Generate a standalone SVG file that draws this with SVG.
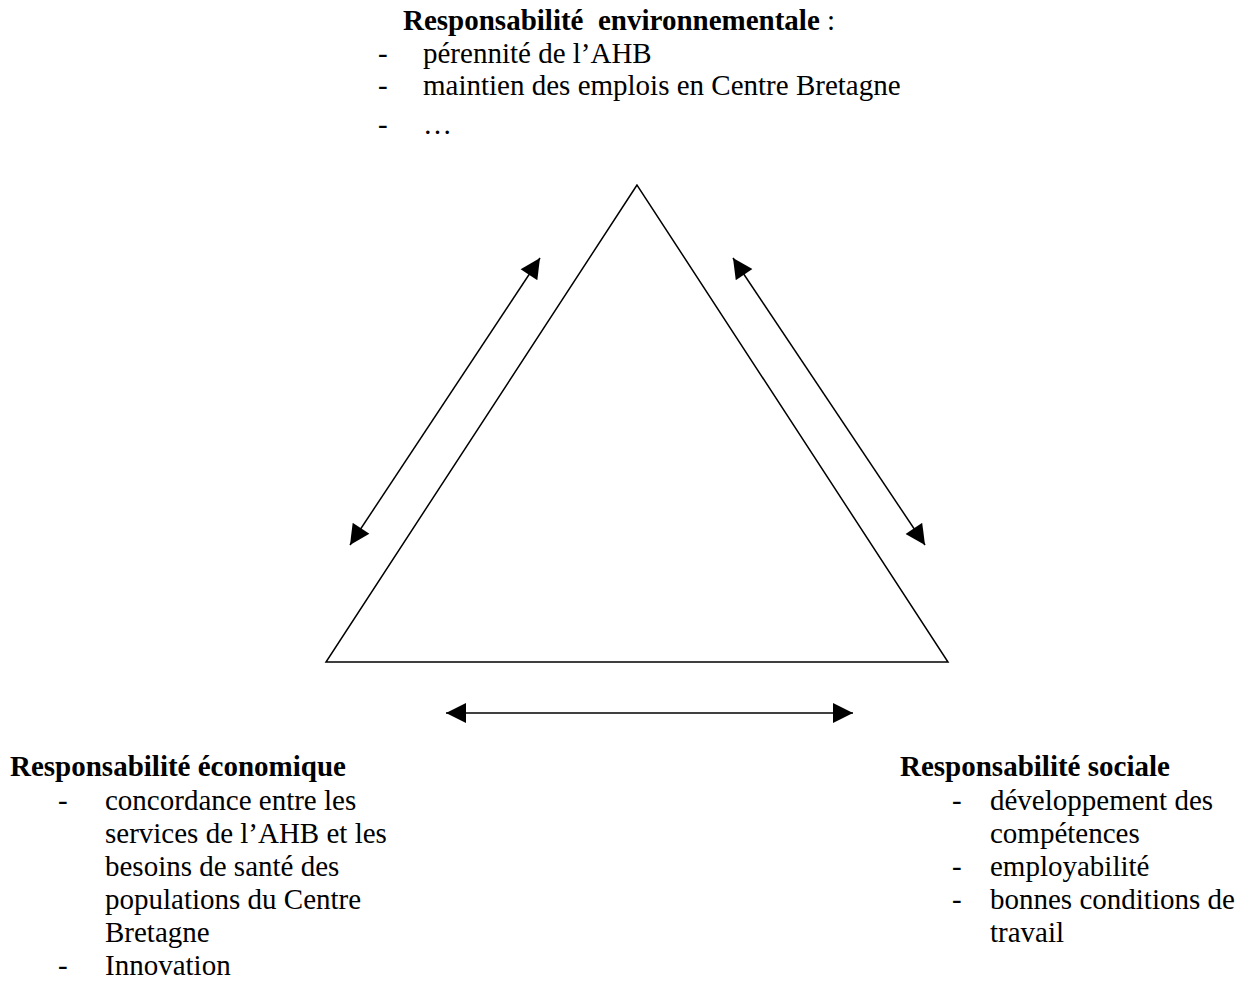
<svg xmlns="http://www.w3.org/2000/svg" width="1257" height="983" viewBox="0 0 1257 983">
<style>
text{font-family:"Liberation Serif","Times New Roman",serif;font-size:29px;fill:#000;white-space:pre}
.b{font-weight:bold}
.ln{stroke:#000;stroke-width:1.5;fill:none}
</style>
<defs>
<marker id="ah" viewBox="0 0 10 10" refX="10" refY="5" markerWidth="21" markerHeight="20" markerUnits="userSpaceOnUse" orient="auto-start-reverse">
<path d="M0,0 L10,5 L0,10 z" fill="#000"/>
</marker>
</defs>
<rect width="1257" height="983" fill="#fff"/>
<g id="triangle">
<polygon points="637,185 326,662 948,662" class="ln"/>
</g>
<g id="connectors">
<line x1="350" y1="545" x2="540" y2="258" class="ln" marker-start="url(#ah)" marker-end="url(#ah)"/>
<line x1="733" y1="258" x2="925" y2="545" class="ln" marker-start="url(#ah)" marker-end="url(#ah)"/>
<line x1="446" y1="713" x2="853" y2="713" class="ln" marker-start="url(#ah)" marker-end="url(#ah)"/>
</g>
<g id="env">
<text x="403" y="30"><tspan class="b">Responsabilité  environnementale</tspan> :</text>
<text x="378" y="63">-</text><text x="423" y="63">pérennité de l’AHB</text>
<text x="378" y="95">-</text><text x="423" y="95">maintien des emplois en Centre Bretagne</text>
<text x="378" y="134">-</text><text x="423" y="134">…</text>
</g>
<g id="eco">
<text x="10" y="776" class="b">Responsabilité économique</text>
<text x="58" y="810">-</text><text x="105" y="810">concordance entre les</text>
<text x="105" y="843">services de l’AHB et les</text>
<text x="105" y="876">besoins de santé des</text>
<text x="105" y="909">populations du Centre</text>
<text x="105" y="942">Bretagne</text>
<text x="58" y="975">-</text><text x="105" y="975">Innovation</text>
</g>
<g id="soc">
<text x="900" y="776" class="b">Responsabilité sociale</text>
<text x="952" y="810">-</text><text x="990" y="810">développement des</text>
<text x="990" y="843">compétences</text>
<text x="952" y="876">-</text><text x="990" y="876">employabilité</text>
<text x="952" y="909">-</text><text x="990" y="909">bonnes conditions de</text>
<text x="990" y="942">travail</text>
</g>
</svg>
